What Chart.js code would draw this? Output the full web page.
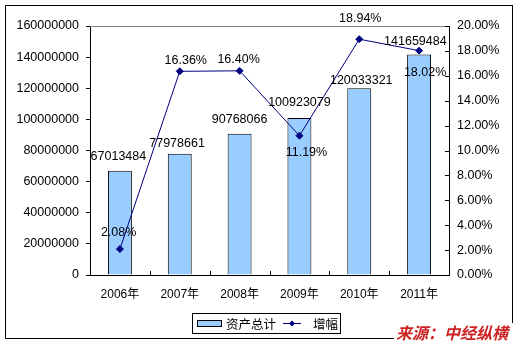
<!DOCTYPE html>
<html>
<head>
<meta charset="utf-8">
<script src="https://cdn.jsdelivr.net/npm/chart.js@4/dist/chart.umd.min.js"></script>
<style>
html,body{margin:0;padding:0;background:#fff;}
#wrap{position:relative;width:521px;height:345px;}
canvas{display:block;}
</style>
</head>
<body>
<div id="wrap"><canvas id="c" width="521" height="345"></canvas></div>
<script>
const categories = ['2006年','2007年','2008年','2009年','2010年','2011年'];
const totalAssets = [67013484, 77978661, 90768066, 100923079, 120033321, 141659484];
const growthPct = [2.08, 16.36, 16.40, 11.19, 18.94, 18.02];
const seriesNames = ['资产总计', '增幅'];
const sourceText = '来源：中经纵横';

const FONT = '"Liberation Sans", Arial, "Noto Sans CJK SC", sans-serif';
const CJK = '"Noto Sans CJK SC", "Liberation Sans", sans-serif';

// label offsets (styling only)
const barLabelOffsets = [[-1.5,-14],[-2.7,-10],[0,-14],[0,-15],[2,-7.5],[-3.7,-13]];
const lineLabelOffsets = [[-1.3,-17],[6,-11],[-1,-11],[7,17],[1,-21],[6,21.5]];

const decorPlugin = {
  id: 'decor',
  beforeDraw(chart) {
    const ctx = chart.ctx;
    ctx.save();
    ctx.fillStyle = '#fff';
    ctx.fillRect(0, 0, chart.width, chart.height);
    ctx.restore();
  },
  afterDraw(chart) {
    const ctx = chart.ctx;
    const ca = chart.chartArea;
    const xs = chart.scales.x, y1 = chart.scales.y1;
    ctx.save();
    // plot area top border
    ctx.strokeStyle = '#808080';
    ctx.lineWidth = 1;
    ctx.beginPath();
    ctx.moveTo(ca.left, Math.round(ca.top) + 0.5);
    ctx.lineTo(ca.right, Math.round(ca.top) + 0.5);
    ctx.stroke();
    // inward x ticks between categories
    ctx.strokeStyle = '#000';
    const n = categories.length;
    const step = (xs.right - xs.left) / n;
    ctx.beginPath();
    for (let i = 1; i < n; i++) {
      const x = Math.round(xs.left + i * step) + 0.5;
      ctx.moveTo(x, ca.bottom);
      ctx.lineTo(x, ca.bottom - 4);
    }
    // inward right axis ticks
    y1.ticks.forEach(t => {
      const y = Math.round(y1.getPixelForValue(t.value)) + 0.5;
      ctx.moveTo(ca.right, y);
      ctx.lineTo(ca.right - 4, y);
    });
    ctx.stroke();

    // data labels
    ctx.fillStyle = '#000';
    ctx.font = '12.5px ' + FONT;
    ctx.textAlign = 'center';
    ctx.textBaseline = 'middle';
    const barMeta = chart.getDatasetMeta(0);
    barMeta.data.forEach((el, i) => {
      const o = barLabelOffsets[i];
      ctx.fillText(String(totalAssets[i]), el.x + o[0], el.y + o[1]);
    });
    const lineMeta = chart.getDatasetMeta(1);
    lineMeta.data.forEach((el, i) => {
      const o = lineLabelOffsets[i];
      ctx.fillText(growthPct[i].toFixed(2) + '%', el.x + o[0], el.y + o[1]);
    });

    // legend
    const ds = chart.data.datasets;
    ctx.strokeStyle = '#000';
    ctx.lineWidth = 1;
    ctx.strokeRect(192.5, 313.5, 148, 20);
    ctx.fillStyle = ds[0].backgroundColor;
    ctx.fillRect(197, 320, 25, 7);
    ctx.strokeRect(197.5, 320.5, 24, 6);
    ctx.fillStyle = '#000';
    ctx.textAlign = 'left';
    ctx.font = '12.5px ' + CJK;
    ctx.fillText(ds[0].label, 226, 324);
    ctx.strokeStyle = ds[1].borderColor;
    ctx.beginPath();
    ctx.moveTo(283, 323.5);
    ctx.lineTo(301, 323.5);
    ctx.stroke();
    ctx.fillStyle = ds[1].borderColor;
    ctx.beginPath();
    ctx.moveTo(292, 320.5); ctx.lineTo(295, 323.5); ctx.lineTo(292, 326.5); ctx.lineTo(289, 323.5);
    ctx.closePath(); ctx.fill();
    ctx.fillStyle = '#000';
    ctx.fillText(ds[1].label, 313, 324);

    // outer border
    ctx.strokeStyle = '#000';
    ctx.strokeRect(5.5, 5.5, 507, 333);

    // source text
    ctx.fillStyle = '#fff';
    ctx.fillRect(394, 323, 127, 22);
    ctx.fillStyle = '#CC2222';
    ctx.font = 'italic bold 16px ' + CJK;
    ctx.textBaseline = 'middle';
    ctx.fillText(sourceText, 396, 333);
    ctx.restore();
  }
};

new Chart(document.getElementById('c'), {
  type: 'bar',
  data: {
    labels: categories,
    datasets: [
      {
        type: 'bar',
        label: seriesNames[0],
        data: totalAssets,
        backgroundColor: '#99CCFF',
        borderColor: '#000000',
        borderWidth: 1,
        barPercentage: 0.4,
        categoryPercentage: 1.0,
        yAxisID: 'y',
        order: 2
      },
      {
        type: 'line',
        label: seriesNames[1],
        data: growthPct,
        borderColor: '#000080',
        backgroundColor: '#000080',
        borderWidth: 1,
        pointStyle: 'rectRot',
        pointRadius: 3.5,
        pointBackgroundColor: '#000080',
        pointBorderColor: '#000080',
        tension: 0,
        yAxisID: 'y1',
        order: 1
      }
    ]
  },
  options: {
    responsive: false,
    animation: false,
    devicePixelRatio: 1,
    layout: { padding: { left: 0, right: 0, top: 26, bottom: 40 } },
    plugins: { legend: { display: false }, tooltip: { enabled: false } },
    scales: {
      x: {
        offset: true,
        grid: { display: false, drawTicks: false },
        border: { display: true, color: '#000', width: 1 },
        ticks: { color: '#000', font: { family: FONT, size: 12 }, padding: 12, maxRotation: 0 },
        afterFit(s) { s.height = 30; }
      },
      y: {
        position: 'left',
        min: 0, max: 160000000,
        grid: { display: true, drawOnChartArea: false, drawTicks: true, tickLength: 4, color: '#000' },
        border: { display: true, color: '#000', width: 1 },
        ticks: { stepSize: 20000000, color: '#000', font: { family: FONT, size: 12.5 }, padding: 7,
                 callback: v => String(v) },
        afterFit(s) { s.width = 90; }
      },
      y1: {
        position: 'right',
        min: 0, max: 20,
        grid: { display: false, drawTicks: false },
        border: { display: true, color: '#000', width: 1 },
        ticks: { stepSize: 2, color: '#000', font: { family: FONT, size: 12.5 }, padding: 8,
                 callback: v => Number(v).toFixed(2) + '%' },
        afterFit(s) { s.width = 72; }
      }
    }
  },
  plugins: [decorPlugin]
});
</script>
</body>
</html>
